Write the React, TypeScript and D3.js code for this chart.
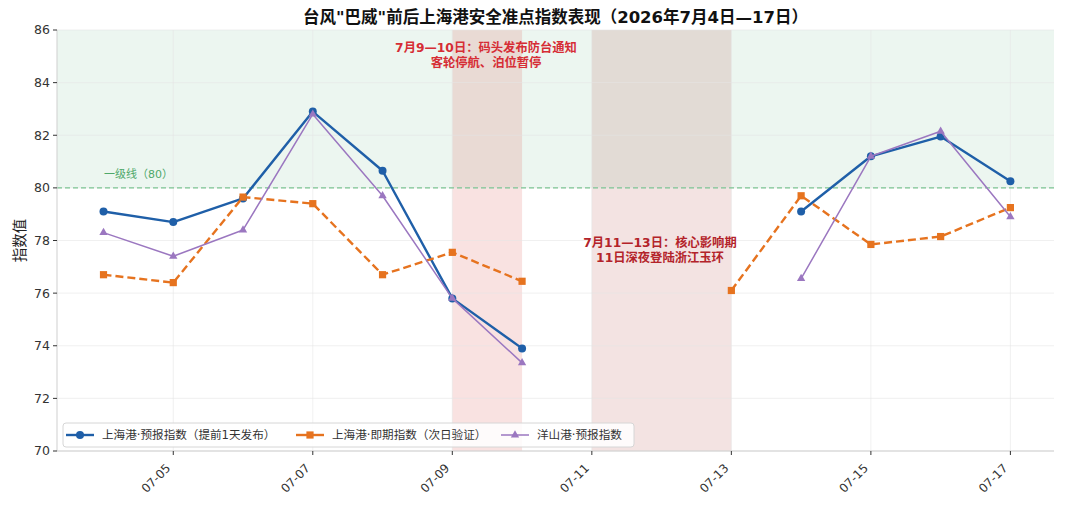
import React from 'react';
import * as d3 from 'd3';

const dates = [
    '2026-07-04', '2026-07-05', '2026-07-06', '2026-07-07', '2026-07-08', '2026-07-09', '2026-07-10',
    '2026-07-11', '2026-07-12', '2026-07-13', '2026-07-14', '2026-07-15', '2026-07-16', '2026-07-17',
];
const shForecast = [79.1, 78.7, 79.6, 82.9, 80.65, 75.8, 73.9, null, null, null, 79.1, 81.2, 81.95, 80.25];
const shActual = [76.7, 76.4, 79.65, 79.4, 76.7, 77.55, 76.45, null, null, 76.1, 79.7, 77.85, 78.15, 79.25];
const ysForecast = [78.3, 77.4, 78.4, 82.8, 79.7, 75.8, 73.35, null, null, null, 76.55, 81.2, 82.15, 78.9];
const yTicks = [70, 72, 74, 76, 78, 80, 82, 84, 86];
const seriesNames = ['上海港·预报指数（提前1天发布）', '上海港·即期指数（次日验证）', '洋山港·预报指数'];
const spans = [
    { from: '2026-07-09', to: '2026-07-10' },
    { from: '2026-07-11', to: '2026-07-13' },
];
const notes = [
    ['7月9—10日：码头发布防台通知', '客轮停航、泊位暂停'],
    ['7月11—13日：核心影响期', '11日深夜登陆浙江玉环'],
];

const W = 1080;
const H = 506;
const margin = { top: 30, right: 26, bottom: 55, left: 57 };
const FONT = '"DejaVu Sans", "Noto Sans CJK SC", sans-serif';

const parse = d3.timeParse('%Y-%m-%d');
const days = dates.map(d => parse(d) as Date);

const App: React.FC = () => {
    const first = days[0];
    const last = days[days.length - 1];
    const x = d3.scaleTime()
        .domain([d3.timeHour.offset(first, -15.6), d3.timeHour.offset(last, 15.6)])
        .range([margin.left, W - margin.right]);
    const y = d3.scaleLinear().domain([70, 86]).range([H - margin.bottom, margin.top]);
    const xTicks = d3.timeDay.every(2)!.range(first, d3.timeDay.offset(last, 1));
    const fmt = d3.timeFormat('%m-%d');

    const line = d3.line<number | null>()
        .defined(v => v !== null)
        .x((_v, i) => x(days[i]))
        .y(v => y(v as number));

    const series = [
        { name: seriesNames[0], values: shForecast, color: '#1f5fa8', width: 2.4, dash: null, marker: 'circle' },
        { name: seriesNames[1], values: shActual, color: '#e6731f', width: 2.4, dash: '8,4', marker: 'square' },
        { name: seriesNames[2], values: ysForecast, color: '#9b77c0', width: 1.5, dash: null, marker: 'triangle' },
    ];

    const drawMarker = (m: string, cx: number, cy: number, color: string, key: string) => {
        if (m === 'circle') return <circle key={key} cx={cx} cy={cy} r={4} fill={color} />;
        if (m === 'square') return <rect key={key} x={cx - 3.6} y={cy - 3.6} width={7.2} height={7.2} fill={color} />;
        const sym = d3.symbol().type(d3.symbolTriangle).size(30)();
        return <path key={key} d={sym || ''} transform={`translate(${cx},${cy})`} fill={color} />;
    };

    const x0 = margin.left;
    const x1 = W - margin.right;
    const yb = H - margin.bottom;

    // legend slots: line start and text start
    const legendItems = [
        { x: 66, textX: 102 },
        { x: 296, textX: 332 },
        { x: 501, textX: 537 },
    ];

    const spanRect = (i: number) => {
        const a = x(parse(spans[i].from) as Date);
        const b = x(parse(spans[i].to) as Date);
        return { x: a, width: b - a };
    };

    return (
        <svg width={W} height={H} style={{ position: 'absolute', left: 0, top: 0, fontFamily: FONT }}>
            <rect width={W} height={H} fill="#fff" />
            {/* level-one band */}
            <rect x={x0} y={y(86)} width={x1 - x0} height={y(80) - y(86)} fill="#2e9a5a" opacity={0.09} />
            {/* typhoon spans */}
            <rect {...spanRect(0)} y={y(86)} height={yb - y(86)} fill="#d9534f" opacity={0.17} />
            <rect {...spanRect(1)} y={y(86)} height={yb - y(86)} fill="#b0413e" opacity={0.15} />

            {/* grid */}
            {yTicks.map(t => (
                <line key={'gy' + t} x1={x0} x2={x1} y1={y(t)} y2={y(t)} stroke="#e6e6e6" strokeWidth={0.8} opacity={0.7} />
            ))}
            {xTicks.map(t => (
                <line key={'gx' + t.getTime()} x1={x(t)} x2={x(t)} y1={y(86)} y2={yb} stroke="#e6e6e6" strokeWidth={0.8} opacity={0.7} />
            ))}

            <line x1={x0} x2={x1} y1={y(80)} y2={y(80)} stroke="#7cc492" strokeWidth={1.2} strokeDasharray="5,3" />
            <text x={104} y={y(80) - 10} fontSize={11} fill="#4fa86a" fontFamily={FONT}>一级线（80）</text>

            {series.map(s => (
                <g key={s.name}>
                    <path d={line(s.values) || ''} fill="none" stroke={s.color} strokeWidth={s.width}
                        strokeDasharray={s.dash || undefined} strokeLinejoin="round" />
                    {s.values.map((v, i) => v === null ? null : drawMarker(s.marker, x(days[i]), y(v), s.color, s.name + i))}
                </g>
            ))}

            {/* annotations */}
            <text x={486} y={52} textAnchor="middle" fontSize={12.3} fontWeight="bold" fill="#d62d35">
                <tspan x={486}>{notes[0][0]}</tspan>
                <tspan x={486} dy={15}>{notes[0][1]}</tspan>
            </text>
            <text x={660} y={247} textAnchor="middle" fontSize={12.3} fontWeight="bold" fill="#b3232a">
                <tspan x={660}>{notes[1][0]}</tspan>
                <tspan x={660} dy={15}>{notes[1][1]}</tspan>
            </text>

            {/* axes */}
            <line x1={x0} x2={x0} y1={y(86)} y2={yb} stroke="#cfcfcf" strokeWidth={1} />
            <line x1={x0} x2={x1} y1={yb} y2={yb} stroke="#cfcfcf" strokeWidth={1} />
            {yTicks.map(t => (
                <g key={'ty' + t}>
                    <line x1={x0 - 4} x2={x0} y1={y(t)} y2={y(t)} stroke="#333" />
                    <text x={x0 - 7} y={y(t)} dy="0.35em" textAnchor="end" fontSize={12.5} fill="#333">{t}</text>
                </g>
            ))}
            {xTicks.map(t => (
                <g key={'tx' + t.getTime()}>
                    <line x1={x(t)} x2={x(t)} y1={yb} y2={yb + 4} stroke="#333" />
                    <text transform={`translate(${x(t) - 8},${yb + 12}) rotate(-45)`} textAnchor="end" dy="0.7em"
                        fontSize={12} fill="#333">{fmt(t)}</text>
                </g>
            ))}
            <text transform={`translate(20,${(y(86) + yb) / 2}) rotate(-90)`} textAnchor="middle" dy="0.35em" fontSize={14.5} fill="#222">指数值</text>

            <text x={(x0 + x1) / 2} y={23} textAnchor="middle" fontSize={16.5} fontWeight="bold" fill="#111">
                台风"巴威"前后上海港安全准点指数表现（2026年7月4日—17日）
            </text>

            {/* legend */}
            <rect x={63} y={423} width={571} height={24} rx={3} fill="#fff" fillOpacity={0.85} stroke="#d6d6d6" />
            {series.map((s, i) => (
                <g key={'lg' + i}>
                    <line x1={legendItems[i].x} x2={legendItems[i].x + 28} y1={435} y2={435} stroke={s.color} strokeWidth={s.width} />
                    {drawMarker(s.marker, legendItems[i].x + 14, 435, s.color, 'lm' + i)}
                    <text x={legendItems[i].textX} y={435} dy="0.35em" fontSize={11.6} fill="#333">{s.name}</text>
                </g>
            ))}
        </svg>
    );
};

export default App;
